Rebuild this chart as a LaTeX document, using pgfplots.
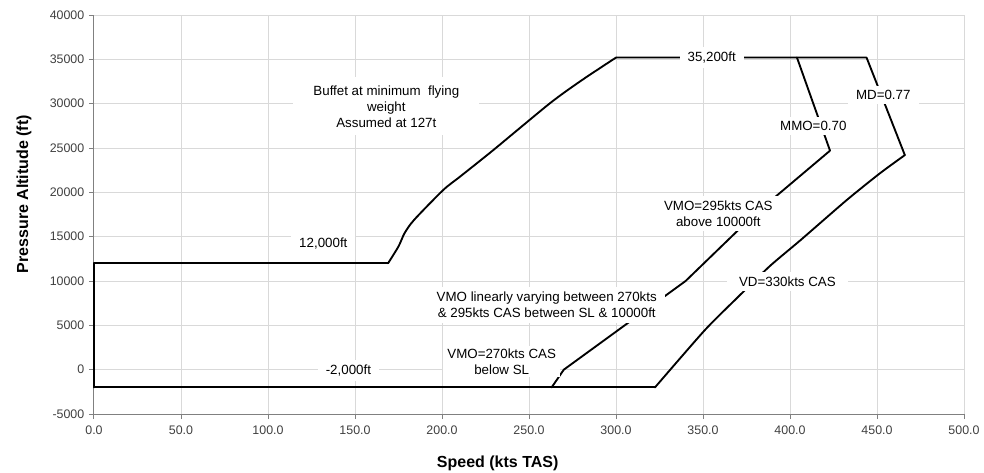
\documentclass[border=0pt]{standalone}
\usepackage{fontspec}
\setmainfont{Liberation Sans}
\usepackage{pgfplots}
\pgfplotsset{compat=1.18}
\definecolor{gridgray}{HTML}{D9D9D9}
\definecolor{axisgray}{HTML}{808080}
\definecolor{textgray}{HTML}{404040}

\begin{document}
\begin{tikzpicture}
\useasboundingbox (-70.5pt,-43.5pt) rectangle (667.5pt,310.5pt);
\begin{axis}[
    at={(0,0)}, anchor=south west,
    scale only axis,
    width=652.5pt, height=299.25pt,
    xmin=0, xmax=500, ymin=-5000, ymax=40000,
    xtick distance=50, ytick distance=5000,
    grid=major,
    grid style={gridgray, line width=0.75pt},
    axis x line*=bottom, axis y line*=left,
    axis line style={axisgray, line width=0.75pt, -},
    tick style={axisgray, line width=0.75pt},
    tick align=outside, major tick length=3.75pt,
    clip=false,
    scaled ticks=false,
    tick label style={font=\fontsize{9.3}{11}\selectfont, text=textgray},
    xticklabel style={yshift=-1.5pt, /pgf/number format/.cd, fixed, fixed zerofill, precision=1, assume math mode=true},
    yticklabel style={/pgf/number format/.cd, fixed, precision=0, 1000 sep={}, assume math mode=true},
    xlabel={Speed (kts TAS)},
    ylabel={Pressure Altitude (ft)},
    label style={font=\bfseries\fontsize{12}{14}\selectfont, text=black},
    xlabel style={at={(axis description cs:0.464,-0.1228)}, anchor=center},
    ylabel style={at={(axis description cs:-0.0805,0.551)}, anchor=center},
    every node/.append style={font=\fontsize{9}{10.5}\selectfont, text=textgray},
    env/.style={black, line width=1.4pt, line join=round, line cap=round, mark=none},
]
% flight envelope, piece by piece
\addplot[env] coordinates {(0,-2000) (0,12000) (169,12000)};
\addplot[env, smooth, tension=0.45] coordinates {
(169,12000) (175,13900) (178.5,15400) (184,16900) (200.7,20260) (210.3,21760)
(229.5,24770) (262,30040) (280,32600) (300,35200)
};
\addplot[env] coordinates {(300,35200) (444,35200) (466,24200)};
\addplot[env, smooth, tension=0.4] coordinates {
(466,24200) (451.7,22150) (432.6,19130) (406,14600) (388.5,11700)
(370.3,8230) (351,4450) (322.4,-2000)
};
\addplot[env] coordinates {(322.4,-2000) (0,-2000)};
% MMO / VMO
\addplot[env] coordinates {
(404,35200) (423,24700) (390.4,19300) (370.3,15750) (340,10000) (270,0) (263,-2000)
};
\tikzset{lbl/.style={fill=white, align=center, inner xsep=6pt, inner ysep=3.5pt}}
\node[lbl, inner xsep=15pt, inner ysep=6pt] at (axis cs:168,29700) {Buffet at minimum\ \ flying\\weight\\Assumed at 127t};
\node[lbl] at (axis cs:355,35200) {35,200ft};
\node[lbl] at (axis cs:413.4,27480) {MMO=0.70};
\node[lbl] at (axis cs:453.6,30976) {MD=0.77};
\node[lbl] at (axis cs:358.8,17630) {VMO=295kts CAS\\above 10000ft};
\node[lbl] at (axis cs:260.2,7293) {VMO linearly varying between 270kts\\\& 295kts CAS between SL \& 10000ft};
\node[lbl, inner xsep=9pt] at (axis cs:398.5,9920) {VD=330kts CAS};
\node[lbl, inner xsep=3pt, inner ysep=2pt] at (axis cs:234.3,900) {VMO=270kts CAS\\below SL};
\node[lbl] at (axis cs:131.8,14250) {12,000ft};
\node[lbl] at (axis cs:146.2,-117) {-2,000ft};
\end{axis}
\end{tikzpicture}
\end{document}
